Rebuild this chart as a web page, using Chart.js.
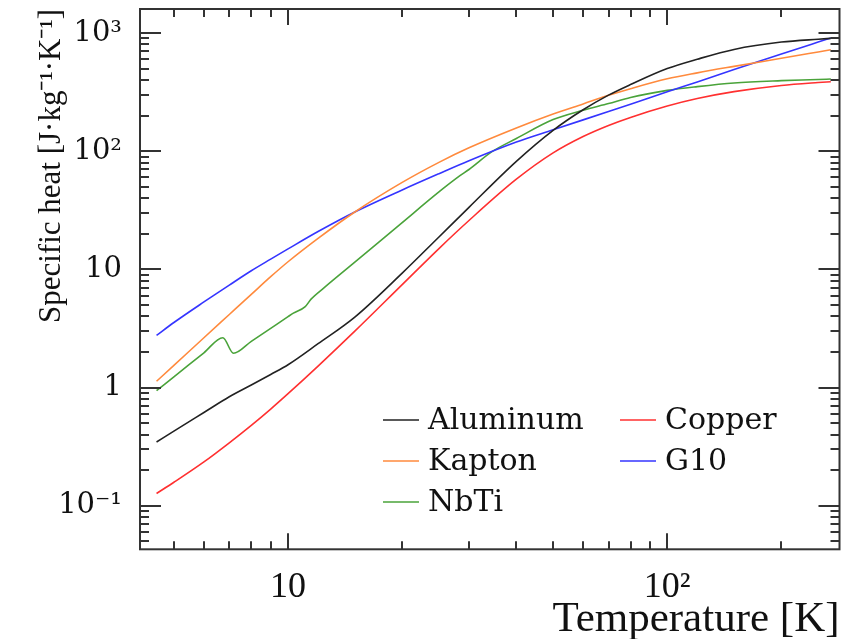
<!DOCTYPE html>
<html><head><meta charset="utf-8">
<script src="https://cdn.jsdelivr.net/npm/chart.js@4.4.0/dist/chart.umd.min.js"></script>
<style>html,body{margin:0;padding:0;background:#fff}#wrap{width:859px;height:639px}</style>
</head><body><div id="wrap"><canvas id="c" width="859" height="639"></canvas></div>
<script>
// ---- data ----
const seriesNames = ['Aluminum', 'Copper', 'Kapton', 'G10', 'NbTi'];
const seriesColors = ['#222222', '#ff3030', '#ff8a3d', '#3535ff', '#4aa33a'];
const temperature = [4.5, 5, 6, 7, 8, 9, 10, 12, 15, 20, 25, 30, 40, 50, 60, 70, 80, 100, 120, 150, 200, 250, 270];
const aluminum = [0.346, 0.428, 0.615, 0.835, 1.05, 1.29, 1.56, 2.35, 3.95, 9.3, 18.8, 33.5, 82, 150, 224, 298, 366, 500, 600, 726, 838, 886, 900];
const copper = [0.127, 0.158, 0.235, 0.341, 0.479, 0.658, 0.888, 1.52, 3.0, 7.43, 15.0, 25.9, 57.9, 96.7, 133, 165, 193, 241, 279, 319, 360, 381, 387];
const kapton = [1.13, 1.54, 2.64, 4.15, 6.14, 8.67, 11.6, 18.3, 30.6, 54.4, 80.4, 106.7, 157, 206, 251, 297, 338, 410, 460, 522, 611, 691, 721];
const g10 = [2.76, 3.55, 5.3, 7.36, 9.73, 12.2, 14.9, 20.9, 30.6, 47, 64.5, 83, 119.5, 151.6, 184, 216.5, 249, 318, 385, 490, 665, 838, 907];
const nbtiTemperature = [4.5, 5, 6, 6.73, 7.18, 8, 9, 10, 10.33, 11.1, 11.5, 12.5, 15, 20, 25, 28.4, 30, 34.5, 40, 50, 60, 70, 80, 100, 120, 150, 200, 250, 270];
const nbti = [0.94, 1.23, 1.97, 2.64, 1.95, 2.46, 3.17, 3.98, 4.26, 4.84, 5.6, 7.07, 11.5, 24.9, 45.2, 62, 70, 99, 128, 185, 222, 253, 285, 327, 352, 378, 395, 404, 408];
const xTickValues = [10, 100];
const xTickLabels = ['10', '10²'];
const yTickValues = [0.1, 1, 10, 100, 1000];
const yTickLabels = ['10⁻¹', '1', '10', '10²', '10³'];
const xRange = [4.07, 284.6];
const yRange = [0.0428, 1596];

// ---- build ----
function pairs(xs, ys) { return xs.map((t, i) => ({x: t, y: ys[i]})); }
const seriesX = [temperature, temperature, temperature, temperature, nbtiTemperature];
const seriesY = [aluminum, copper, kapton, g10, nbti];
const datasets = seriesNames.map((n, i) => ({
  label: n, data: pairs(seriesX[i], seriesY[i]),
  borderColor: seriesColors[i], backgroundColor: seriesColors[i],
  borderWidth: 1.6, pointRadius: 0, fill: false, cubicInterpolationMode: 'monotone'
}));
function labelFor(v, vals, labs) {
  for (let i = 0; i < vals.length; i++) if (Math.abs(Math.log10(v) - Math.log10(vals[i])) < 1e-6) return labs[i];
  return '';
}

const framePlugin = {
  id: 'frame',
  afterDatasetsDraw(chart) {
    const {ctx, chartArea: {left, right, top, bottom}, scales: {x, y}} = chart;
    ctx.save();
    ctx.strokeStyle = '#333'; ctx.lineWidth = 2;
    const seg = (a, b, c, d) => { ctx.beginPath(); ctx.moveTo(a, b); ctx.lineTo(c, d); ctx.stroke(); };
    for (let e = -2; e <= 3; e++) for (let m = 1; m <= 9; m++) {
      const v = m * Math.pow(10, e);
      if (v < y.min || v > y.max) continue;
      const p = Math.round(y.getPixelForValue(v));
      const L = m === 1 ? 21 : 9;
      seg(left, p, left + L, p); seg(right, p, right - L, p);
    }
    for (let e = 0; e <= 2; e++) for (let m = 1; m <= 9; m++) {
      const v = m * Math.pow(10, e);
      if (v < x.min || v > x.max) continue;
      const p = Math.round(x.getPixelForValue(v));
      const L = m === 1 ? 16 : 8;
      seg(p, bottom, p, bottom - L); seg(p, top, p, top + L);
    }
    ctx.strokeRect(left, top, right - left, bottom - top);
    ctx.restore();
  }
};

const legendPlugin = {
  id: 'legendBox',
  afterDatasetsDraw(chart) {
    const ctx = chart.ctx;
    const cols = [383, 620], rows = [420, 461, 502];
    ctx.save();
    ctx.font = '30px "DejaVu Serif"';
    ctx.textBaseline = 'middle';
    ctx.fillStyle = '#111';
    chart.data.datasets.forEach((ds, i) => {
      const cx = cols[i % 2], cy = rows[Math.floor(i / 2)];
      ctx.strokeStyle = ds.borderColor; ctx.lineWidth = 1.6;
      ctx.beginPath(); ctx.moveTo(cx, cy); ctx.lineTo(cx + 36, cy); ctx.stroke();
      ctx.fillText(ds.label, cx + 45, cy + 1);
    });
    ctx.restore();
  }
};

new Chart(document.getElementById('c'), {
  type: 'line',
  data: {datasets},
  options: {
    responsive: false, animation: false, devicePixelRatio: 1,
    layout: {padding: {top: 9, right: 19.5, left: 0, bottom: 0}},
    plugins: {legend: {display: false}, tooltip: {enabled: false}},
    scales: {
      x: {
        type: 'logarithmic', min: xRange[0], max: xRange[1],
        grid: {display: false}, border: {display: false},
        ticks: {autoSkip: false, maxRotation: 0, minRotation: 0, padding: 9, color: '#111',
          font: {family: 'Liberation Serif', size: 36},
          callback: (v) => labelFor(v, xTickValues, xTickLabels)},
        title: {display: true, text: 'Temperature [K]', align: 'end', color: '#111',
          font: {family: 'Liberation Serif', size: 43, lineHeight: 0.88}, padding: {top: 0, bottom: 0}},
        afterFit(s) { s.height = 89.7; s.paddingLeft = 0; s.paddingRight = 0; }
      },
      y: {
        type: 'logarithmic', min: yRange[0], max: yRange[1],
        grid: {display: false}, border: {display: false},
        ticks: {autoSkip: false, padding: 10, color: '#111',
          font: {family: 'DejaVu Serif', size: 29},
          callback: (v) => labelFor(v, yTickValues, yTickLabels)},
        title: {display: true, text: 'Specific heat [J·kg⁻¹·K⁻¹]', align: 'end', color: '#111',
          font: {family: 'Liberation Serif', size: 31}, padding: {top: 33, bottom: 0}},
        afterFit(s) { s.width = 140; s.paddingTop = 0; s.paddingBottom = 0; }
      }
    }
  },
  plugins: [framePlugin, legendPlugin]
});
</script></body></html>
